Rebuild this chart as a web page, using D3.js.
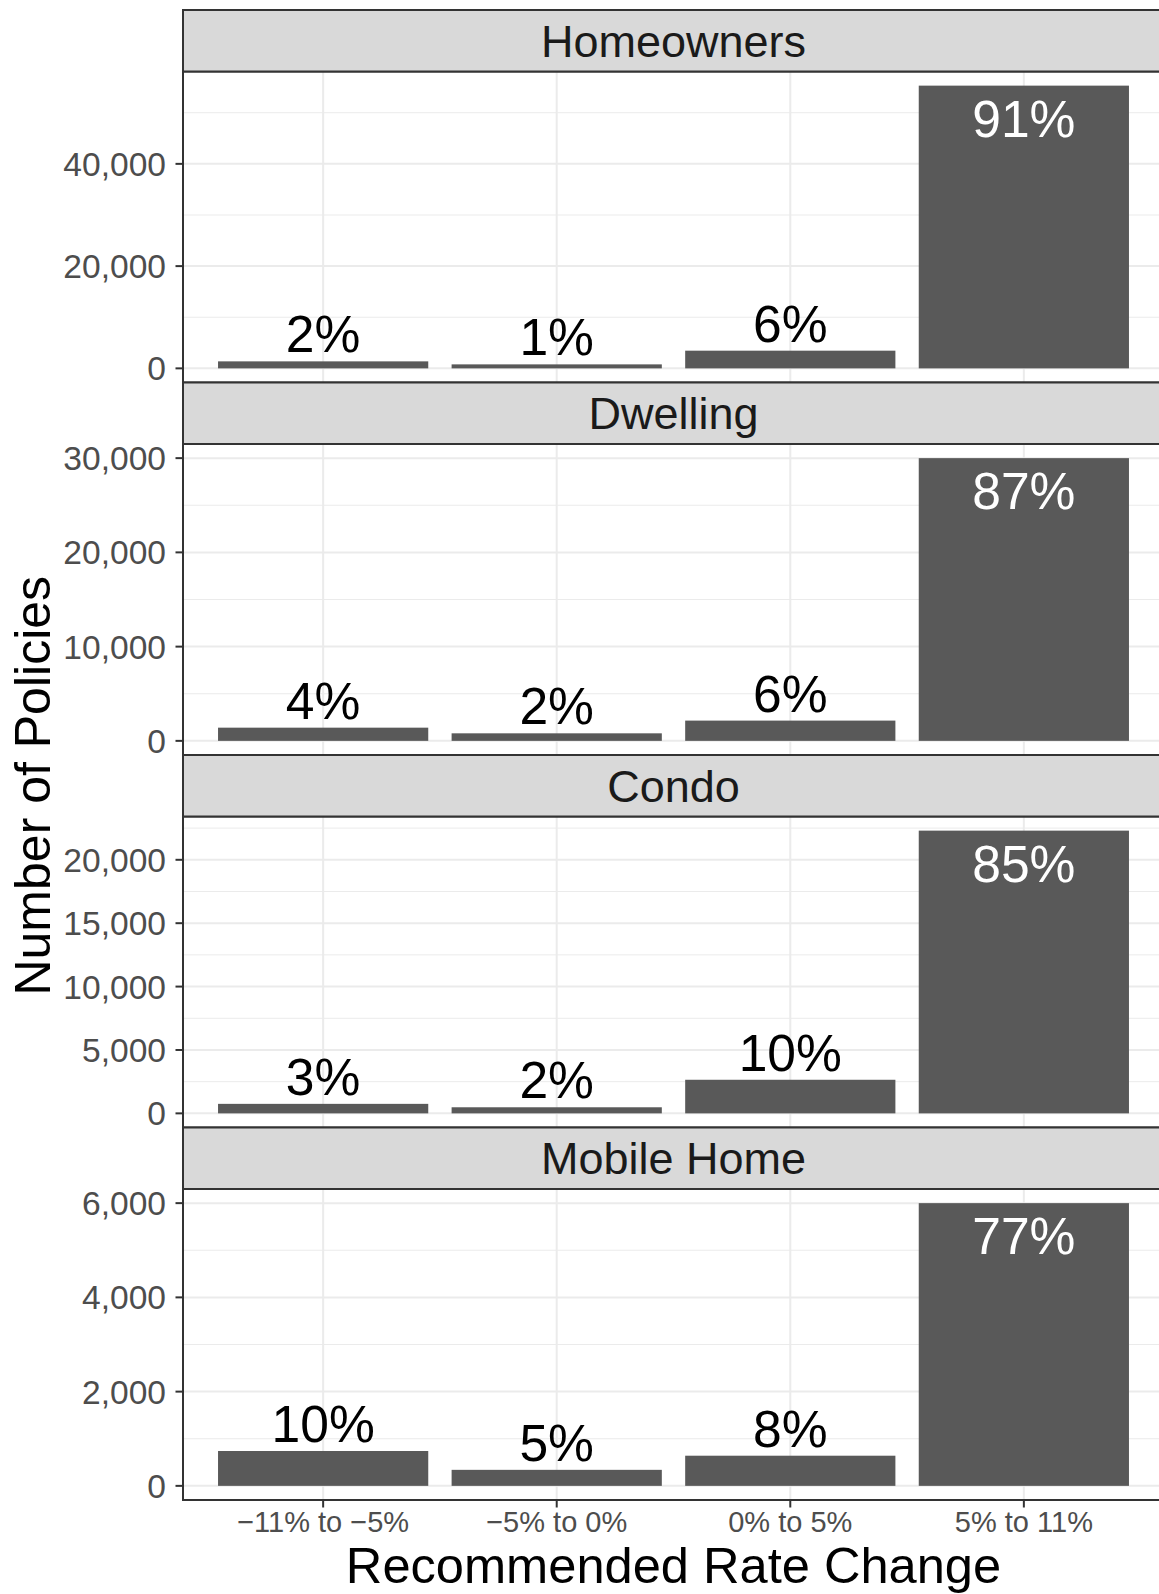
<!DOCTYPE html>
<html>
<head>
<meta charset="utf-8">
<script src="https://cdn.jsdelivr.net/npm/d3@7"></script>
<style>
  body { margin: 0; background: #fff; }
  svg { display: block; font-family: 'Liberation Sans', Arial, sans-serif; }
</style>
</head>
<body>
<svg></svg>
<script>
const categories = ['\u221211% to \u22125%', '\u22125% to 0%', '0% to 5%', '5% to 11%'];
const facets = ['Homeowners', 'Dwelling', 'Condo', 'Mobile Home'];

// number of policies per rate change bucket
const homeowners = [1370, 780, 3460, 55300];
const dwelling = [1400, 800, 2150, 30000];
const condo = [750, 480, 2650, 22300];
const mobile_home = [740, 340, 640, 6000];

// share labels as printed on the bars
const homeowners_pct = ['2%', '1%', '6%', '91%'];
const dwelling_pct = ['4%', '2%', '6%', '87%'];
const condo_pct = ['3%', '2%', '10%', '85%'];
const mobile_home_pct = ['10%', '5%', '8%', '77%'];

// y breaks per facet (free scales)
const homeowners_breaks = [0, 20000, 40000];
const dwelling_breaks = [0, 10000, 20000, 30000];
const condo_breaks = [0, 5000, 10000, 15000, 20000];
const mobile_home_breaks = [0, 2000, 4000, 6000];

const values = [homeowners, dwelling, condo, mobile_home];
const pcts = [homeowners_pct, dwelling_pct, condo_pct, mobile_home_pct];
const breaks = [homeowners_breaks, dwelling_breaks, condo_breaks, mobile_home_breaks];

const width = 1159, height = 1594;
const plot_left = 183, plot_right = 1164, plot_top = 10;
const strip_h = 61.5, panel_h = 311;

const svg = d3.select('svg')
  .attr('width', width)
  .attr('height', height);

svg.append('rect')
  .attr('width', width)
  .attr('height', height)
  .attr('fill', '#fff');

const x = d3.scaleBand()
  .domain(categories)
  .range([plot_left, plot_right])
  .paddingInner(0.1)
  .paddingOuter(0.15);

const fmt = d3.format(',');

facets.forEach((facet, f) => {
  const strip_y = plot_top + f * (strip_h + panel_h);
  const py0 = strip_y + strip_h;
  const py1 = py0 + panel_h;
  const vals = values[f];
  const max = d3.max(vals);
  const y = d3.scaleLinear()
    .domain([-0.05 * max, 1.05 * max])
    .range([py1, py0]);

  const g = svg.append('g');

  // minor grid: midpoints between breaks, one step beyond either end
  const b = breaks[f];
  const step = b[1] - b[0];
  const minor = [];
  for (let v = b[0] - step / 2; v <= y.domain()[1]; v += step) {
    if (v >= y.domain()[0]) minor.push(v);
  }
  g.selectAll('.minor')
    .data(minor)
    .enter().append('line')
      .attr('x1', plot_left).attr('x2', plot_right)
      .attr('y1', d => y(d)).attr('y2', d => y(d))
      .attr('stroke', '#EBEBEB')
      .attr('stroke-width', 1);

  g.selectAll('.major')
    .data(b)
    .enter().append('line')
      .attr('x1', plot_left).attr('x2', plot_right)
      .attr('y1', d => y(d)).attr('y2', d => y(d))
      .attr('stroke', '#EBEBEB')
      .attr('stroke-width', 2);

  g.selectAll('.vgrid')
    .data(categories)
    .enter().append('line')
      .attr('x1', d => x(d) + x.bandwidth() / 2)
      .attr('x2', d => x(d) + x.bandwidth() / 2)
      .attr('y1', py0).attr('y2', py1)
      .attr('stroke', '#EBEBEB')
      .attr('stroke-width', 2);

  // bars
  g.selectAll('.bar')
    .data(vals)
    .enter().append('rect')
      .attr('x', (d, i) => x(categories[i]))
      .attr('width', x.bandwidth())
      .attr('y', d => y(d))
      .attr('height', d => y(0) - y(d))
      .attr('fill', '#595959');

  // share labels: inside the tallest bar, above the rest
  g.selectAll('.lab')
    .data(vals)
    .enter().append('text')
      .attr('x', (d, i) => x(categories[i]) + x.bandwidth() / 2)
      .attr('y', d => d === max ? y(d) + 51 : y(d) - 9)
      .attr('text-anchor', 'middle')
      .attr('font-size', 51.6)
      .attr('fill', d => d === max ? '#fff' : '#000')
      .text((d, i) => pcts[f][i]);

  // panel border
  g.append('rect')
    .attr('x', plot_left).attr('y', py0)
    .attr('width', plot_right - plot_left).attr('height', panel_h)
    .attr('fill', 'none')
    .attr('stroke', '#333')
    .attr('stroke-width', 2);

  // strip
  g.append('rect')
    .attr('x', plot_left).attr('y', strip_y)
    .attr('width', plot_right - plot_left).attr('height', strip_h)
    .attr('fill', '#D9D9D9')
    .attr('stroke', '#333')
    .attr('stroke-width', 2);
  g.append('text')
    .attr('x', (plot_left + plot_right) / 2)
    .attr('y', strip_y + strip_h / 2 + 16)
    .attr('text-anchor', 'middle')
    .attr('font-size', 45)
    .attr('fill', '#1A1A1A')
    .text(facet);

  // y axis
  const ax = g.selectAll('.ytick')
    .data(b)
    .enter().append('g')
      .attr('transform', d => `translate(0,${y(d)})`);
  ax.append('line')
    .attr('x1', plot_left - 7.5).attr('x2', plot_left)
    .attr('stroke', '#333')
    .attr('stroke-width', 2);
  ax.append('text')
    .attr('x', plot_left - 17)
    .attr('y', 12)
    .attr('text-anchor', 'end')
    .attr('font-size', 33.6)
    .attr('fill', '#4D4D4D')
    .text(d => fmt(d));

  // x axis only under the last panel
  if (f === facets.length - 1) {
    const xt = g.selectAll('.xtick')
      .data(categories)
      .enter().append('g')
        .attr('transform', d => `translate(${x(d) + x.bandwidth() / 2},${py1})`);
    xt.append('line')
      .attr('y1', 0).attr('y2', 7.5)
      .attr('stroke', '#333')
      .attr('stroke-width', 2);
    xt.append('text')
      .attr('y', 32)
      .attr('text-anchor', 'middle')
      .attr('font-size', 29)
      .attr('fill', '#4D4D4D')
      .text(d => d);

    svg.append('text')
      .attr('x', (plot_left + plot_right) / 2)
      .attr('y', py1 + 83)
      .attr('text-anchor', 'middle')
      .attr('font-size', 50.6)
      .attr('fill', '#000')
      .text('Recommended Rate Change');

    svg.append('text')
      .attr('transform', `translate(50,${(plot_top + strip_h + py1) / 2}) rotate(-90)`)
      .attr('text-anchor', 'middle')
      .attr('font-size', 50)
      .attr('fill', '#000')
      .text('Number of Policies');
  }
});
</script>
</body>
</html>
